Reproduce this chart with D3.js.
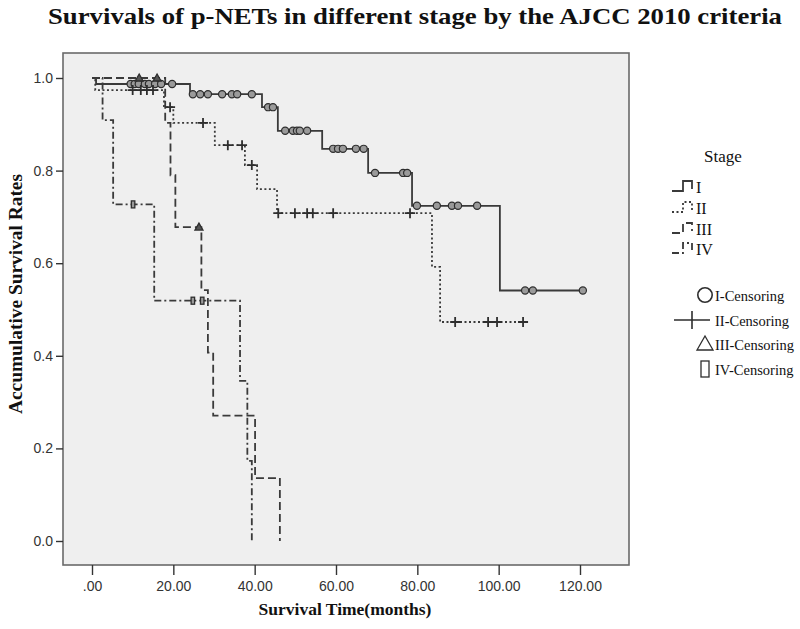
<!DOCTYPE html>
<html>
<head>
<meta charset="utf-8">
<script src="https://cdn.jsdelivr.net/npm/d3@7"></script>
<style>
  html, body { margin: 0; padding: 0; background: #fff; }
  svg { display: block; }
</style>
</head>
<body>
<svg id="chart" width="800" height="629"></svg>
<script>
// ---- Data ----
const stageNames = ["I", "II", "III", "IV"];

const timesI = [0, 1, 24.1, 41.8, 45.7, 56.6, 67.9, 78.7, 100.3, 120.7];
const survI  = [1, 0.987, 0.965, 0.937, 0.886, 0.847, 0.795, 0.724, 0.541, 0.541];
const censorI = [9.5, 10.5, 11.5, 13, 14, 15.5, 17, 19.7, 24.8, 26.6, 28.5, 32.0, 34.4, 35.7, 39.3,
  43.3, 44.5, 47.5, 49.4, 50.4, 51.1, 52.9, 59.3, 60.5, 61.7, 64.9, 66.8, 69.6, 76.5, 77.5,
  79.9, 84.8, 88.5, 90.0, 94.7, 106.5, 108.4, 120.7];

const timesII = [0, 0.8, 17.7, 20.0, 30.2, 37.6, 40.6, 45.5, 83.6, 85.6, 106.0];
const survII  = [1, 0.974, 0.937, 0.903, 0.855, 0.812, 0.760, 0.708, 0.592, 0.473, 0.473];
const censorII = [10, 12, 13.5, 15, 19.2, 27.3, 33.4, 36.9, 39.3, 45.8, 49.9, 52.9, 54.3, 59.3,
  78.2, 89.3, 97.4, 99.6, 106.0];

const timesIII = [0, 18.0, 19.3, 20.5, 26.9, 28.5, 29.8, 40.1, 46.2];
const survIII  = [1, 0.903, 0.79, 0.678, 0.542, 0.407, 0.271, 0.136, 0];
const censorIII = [11.6, 16, 26.3];

const timesIV = [0, 2.6, 5.2, 15.3, 36.4, 38.2, 39.3];
const survIV  = [1, 0.909, 0.727, 0.519, 0.346, 0.173, 0];
const censorIV = [10.1, 24.8, 27.1];

const xTicks = [0, 20, 40, 60, 80, 100, 120];
const xTickLabels = [".00", "20.00", "40.00", "60.00", "80.00", "100.00", "120.00"];
const yTicks = [0, 0.2, 0.4, 0.6, 0.8, 1.0];
const yTickLabels = ["0.0", "0.2", "0.4", "0.6", "0.8", "1.0"];

const legendLines = ["I", "II", "III", "IV"];
const legendCensor = ["I-Censoring", "II-Censoring", "III-Censoring", "IV-Censoring"];

// ---- Layout ----
const svg = d3.select("#chart");
const frame = {left: 63, top: 53, right: 629, bottom: 565};
const x = d3.scaleLinear().domain([0, 120]).range([92, 580]);
const y = d3.scaleLinear().domain([0, 1]).range([541, 78]);

const ink = "#3a3a3a";
const serif = "'Liberation Serif','Times New Roman',serif";
const sans = "'Liberation Sans',Arial,sans-serif";

// Title
svg.append("text")
  .attr("x", 48).attr("y", 24)
  .attr("textLength", 734).attr("lengthAdjust", "spacingAndGlyphs")
  .attr("font-family", serif).attr("font-weight", "bold").attr("font-size", 24)
  .attr("fill", "#111")
  .text("Survivals of p-NETs in different stage by the AJCC 2010 criteria");

// Plot frame
svg.append("rect")
  .attr("x", frame.left).attr("y", frame.top)
  .attr("width", frame.right - frame.left).attr("height", frame.bottom - frame.top)
  .attr("fill", "#efefef").attr("stroke", "#6a6a6a").attr("stroke-width", 1.6);

// Axes
const xAxis = d3.axisBottom(x).tickValues(xTicks)
  .tickFormat((d, i) => xTickLabels[i]).tickSize(10).tickSizeOuter(0);
const gx = svg.append("g").attr("transform", `translate(0,${frame.bottom})`).call(xAxis);
gx.select(".domain").remove();
gx.selectAll("line").attr("stroke", "#333").attr("stroke-width", 1.4);
gx.selectAll("text").attr("font-family", sans).attr("font-size", 14).attr("fill", "#333").attr("dy", "0.9em");

const yAxis = d3.axisLeft(y).tickValues(yTicks)
  .tickFormat((d, i) => yTickLabels[i]).tickSize(7).tickSizeOuter(0);
const gy = svg.append("g").attr("transform", `translate(${frame.left},0)`).call(yAxis);
gy.select(".domain").remove();
gy.selectAll("line").attr("stroke", "#333").attr("stroke-width", 1.4);
gy.selectAll("text").attr("font-family", sans).attr("font-size", 14).attr("fill", "#333").attr("x", -10);

// Axis titles
svg.append("text")
  .attr("x", 345).attr("y", 615).attr("text-anchor", "middle")
  .attr("font-family", serif).attr("font-weight", "bold").attr("font-size", 17.5)
  .attr("fill", "#111").text("Survival Time(months)");
svg.append("text")
  .attr("transform", "translate(22,294) rotate(-90)").attr("text-anchor", "middle")
  .attr("textLength", 240).attr("lengthAdjust", "spacingAndGlyphs")
  .attr("font-family", serif).attr("font-weight", "bold").attr("font-size", 18)
  .attr("fill", "#111").text("Accumulative Survival Rates");

// Curves
const series = [
  {times: timesI, surv: survI, censor: censorI, dash: null, mark: "circle"},
  {times: timesII, surv: survII, censor: censorII, dash: "2,2.5", mark: "plus"},
  {times: timesIII, surv: survIII, censor: censorIII, dash: "8,4", mark: "triangle"},
  {times: timesIV, surv: survIV, censor: censorIV, dash: "7,3,2,3", mark: "rect"}
];

const line = d3.line().x(d => x(d[0])).y(d => y(d[1])).curve(d3.curveStepAfter);
function survAt(s, t) {
  let v = s.surv[0];
  for (let i = 0; i < s.times.length; i++) if (s.times[i] <= t) v = s.surv[i];
  return v;
}

const gCurves = svg.append("g");
series.forEach(s => {
  const pts = s.times.map((t, i) => [t, s.surv[i]]);
  gCurves.append("path").attr("d", line(pts))
    .attr("fill", "none").attr("stroke", ink).attr("stroke-width", 1.8)
    .attr("stroke-dasharray", s.dash);
});

function drawMark(g, type, cx, cy, big) {
  const k = big ? 2 : 1;
  if (type === "circle") {
    g.append("circle").attr("cx", cx).attr("cy", cy).attr("r", 3.6 * k)
      .attr("fill", big ? "none" : "#9a9a9a").attr("stroke", "#2e2e2e").attr("stroke-width", big ? 1.6 : 1.2);
  } else if (type === "plus") {
    const w = big ? 18 : 5, h = big ? 9 : 5;
    g.append("path").attr("d", `M${cx - w},${cy}H${cx + w}M${cx},${cy - h}V${cy + h}`)
      .attr("stroke", "#2e2e2e").attr("stroke-width", big ? 1.6 : 1.8).attr("fill", "none");
  } else if (type === "triangle") {
    const r = 4 * k;
    g.append("path").attr("d", `M${cx},${cy - r}L${cx + r},${cy + r * 0.75}L${cx - r},${cy + r * 0.75}Z`)
      .attr("fill", big ? "none" : "#555").attr("stroke", "#2e2e2e").attr("stroke-width", 1.3);
  } else {
    const w = big ? 8 : 3.5, h = big ? 16 : 7;
    g.append("rect").attr("x", cx - w / 2).attr("y", cy - h / 2).attr("width", w).attr("height", h)
      .attr("fill", big ? "none" : "#9a9a9a").attr("stroke", "#2e2e2e").attr("stroke-width", 1.3);
  }
}

const gMarks = svg.append("g");
series.forEach(s => {
  s.censor.forEach(t => drawMark(gMarks, s.mark, x(t), y(survAt(s, t)), false));
});

// Legend
const gLeg = svg.append("g").attr("font-family", serif).attr("font-size", 16).attr("fill", "#111");
gLeg.append("text").attr("x", 704).attr("y", 162).attr("font-size", 17).text("Stage");
const lineRows = [187, 208, 229, 249];
legendLines.forEach((lab, i) => {
  const cy = lineRows[i];
  gLeg.append("path")
    .attr("d", `M672,${cy + 4}H683V${cy - 6}H692V${cy + 2}`)
    .attr("fill", "none").attr("stroke", ink).attr("stroke-width", 1.8)
    .attr("stroke-dasharray", series[i].dash);
  gLeg.append("text").attr("x", 696).attr("y", cy + 6).text(lab);
});
const censorRows = [296, 321, 345, 370];
const censorMarkX = [705, 692, 705, 705];
legendCensor.forEach((lab, i) => {
  const cy = censorRows[i];
  drawMark(gLeg, series[i].mark, censorMarkX[i], cy - 1, true);
  gLeg.append("text").attr("x", 715).attr("y", cy + 5)
    .attr("font-size", 14.5)
    .text(lab);
});
</script>
</body>
</html>
